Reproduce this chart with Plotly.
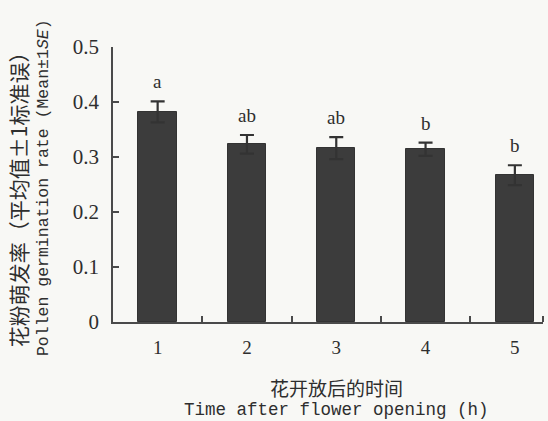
import plotly.graph_objects as go

# Pollen germination rate by time after flower opening
hours = [1, 2, 3, 4, 5]
hour_labels = ["1", "2", "3", "4", "5"]
mean_rate = [0.382, 0.323, 0.316, 0.314, 0.267]
se_rate = [0.019, 0.017, 0.020, 0.012, 0.018]
sig_letters = ["a", "ab", "ab", "b", "b"]
y_ticks = [0, 0.1, 0.2, 0.3, 0.4, 0.5]
y_tick_labels = ["0", "0.1", "0.2", "0.3", "0.4", "0.5"]

PAPER = "#f8f8f5"
INK = "#4a4a4a"
TEXT = "#2e2e2e"
SERIF = "Liberation Serif, Times New Roman, serif"
MONO = "Liberation Mono, Courier New, monospace"
CJK = "Noto Sans CJK SC, sans-serif"

fig = go.Figure()
fig.add_trace(go.Bar(
    x=hours,
    y=mean_rate,
    width=0.43,
    marker=dict(color="#3c3c3c", line=dict(color="#333333", width=1)),
    error_y=dict(type="data", array=se_rate, visible=True,
                 color="#333333", thickness=2.2, width=7),
    showlegend=False,
))

# significance letters above each error bar
for h, m, s, t in zip(hours, mean_rate, se_rate, sig_letters):
    fig.add_annotation(x=h, y=m + s, text=t, showarrow=False,
                       yanchor="bottom", yshift=7,
                       font=dict(family=SERIF, size=19, color=TEXT))

# axis titles (Chinese + English lines)
fig.add_annotation(xref="paper", yref="paper", x=0.519, y=0, yshift=-65,
                   xanchor="center", yanchor="middle",
                   text="花开放后的时间", showarrow=False,
                   font=dict(family=CJK, size=19, color=TEXT))
fig.add_annotation(xref="paper", yref="paper", x=0.52, y=0, yshift=-88,
                   xanchor="center", yanchor="middle",
                   text="Time after flower opening (h)", showarrow=False,
                   font=dict(family=MONO, size=17.5, color=TEXT))
fig.add_annotation(xref="paper", yref="paper", x=0, xshift=-95, y=0.465,
                   xanchor="center", yanchor="middle",
                   text="花粉萌发率（平均值±1标准误）", showarrow=False,
                   textangle=-90,
                   font=dict(family=CJK, size=21, color=TEXT))
fig.add_annotation(xref="paper", yref="paper", x=0, xshift=-70, y=0.487,
                   xanchor="center", yanchor="middle",
                   text="Pollen germination rate (Mean±1<i>SE</i>)",
                   showarrow=False, textangle=-90,
                   font=dict(family=MONO, size=16.5, color=TEXT))

fig.update_layout(
    width=548, height=421,
    margin=dict(l=113, r=5, t=47, b=99),
    paper_bgcolor=PAPER, plot_bgcolor=PAPER,
    bargap=0,
)
fig.update_xaxes(
    range=[0.5, 5.315],
    tickmode="array", tickvals=hours, ticktext=hour_labels,
    ticks="", ticklabelstandoff=7,
    tickfont=dict(family=SERIF, size=19, color=TEXT),
    showline=True, linecolor=INK, linewidth=1.6,
    showgrid=False, zeroline=False,
    minor=dict(tickmode="array", tickvals=[1.5, 2.5, 3.5, 4.5, 5.315],
               ticks="inside", ticklen=6, tickwidth=1.6, tickcolor=INK,
               showgrid=False),
)
fig.update_yaxes(
    range=[0, 0.5],
    tickmode="array", tickvals=y_ticks, ticktext=y_tick_labels,
    ticks="inside", ticklen=6, tickwidth=1.6, tickcolor=INK,
    ticklabelstandoff=8,
    tickfont=dict(family=SERIF, size=21, color=TEXT),
    showline=True, linecolor=INK, linewidth=1.6,
    showgrid=False, zeroline=False,
)

fig.write_html("out.html")
